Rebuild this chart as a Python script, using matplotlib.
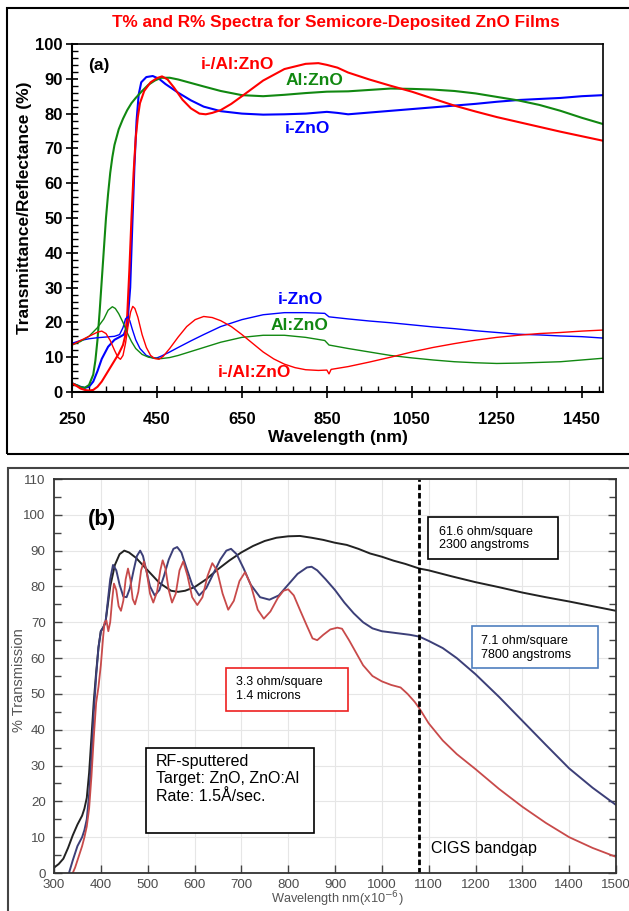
import matplotlib
matplotlib.use("Agg")
import matplotlib.pyplot as plt
from matplotlib.patches import Rectangle
from matplotlib.ticker import MultipleLocator

plt.rcParams['font.family'] = ['Liberation Sans', 'DejaVu Sans']

# ---------------- panel (a): T% and R% spectra ----------------
a_xticks = [250, 450, 650, 850, 1050, 1250, 1450]

# transmittance, i-ZnO (blue)
wl_t_izno = [250, 260, 270, 280, 290, 300, 310, 320, 335, 350, 365, 372, 380, 387, 392, 397,
             402, 407, 413, 425, 440, 455, 470, 500, 530, 560, 600, 650, 700, 750, 800, 850,
             875, 900, 950, 1000, 1050, 1100, 1150, 1200, 1250, 1300, 1350, 1400, 1450, 1500]
t_izno = [2.5, 2.0, 1.5, 1.2, 1.5, 3.0, 6.0, 9.5, 13.0, 15.0, 16.0, 16.5, 19.0, 30.0, 48.0, 65.0,
          78.0, 85.5, 89.0, 90.5, 90.8, 90.0, 88.5, 86.0, 83.8, 82.0, 80.7, 80.0, 79.7, 79.8, 80.0, 80.5,
          80.2, 79.8, 80.3, 80.8, 81.3, 81.8, 82.3, 82.8, 83.4, 83.9, 84.2, 84.5, 85.0, 85.3]

# transmittance, Al:ZnO (green)
wl_t_alzno = [250, 260, 270, 280, 290, 300, 305, 310, 315, 320, 325, 330, 335, 340, 345, 350,
              360, 370, 380, 390, 400, 415, 430, 445, 460, 480, 500, 530, 560, 600, 650, 700,
              750, 800, 850, 900, 950, 1000, 1050, 1100, 1150, 1200, 1250, 1300, 1350, 1400, 1450, 1500]
t_alzno = [2.5, 2.0, 1.4, 1.2, 2.0, 5.0, 9.0, 15.0, 23.0, 32.0, 41.0, 50.0, 57.0, 63.0, 67.5, 71.0,
           75.5, 78.5, 81.0, 83.0, 84.5, 86.5, 88.3, 89.5, 90.3, 90.3, 89.8, 88.8, 87.8, 86.5, 85.3, 85.0,
           85.4, 85.9, 86.3, 86.4, 86.8, 87.2, 87.1, 86.9, 86.5, 85.8, 84.8, 83.8, 82.5, 80.8, 78.8, 77.0]

# transmittance, i-/Al:ZnO (red)
wl_t_bilayer = [250, 260, 270, 280, 290, 300, 310, 320, 330, 340, 350, 360, 370, 375, 380, 385,
                390, 395, 400, 405, 410, 420, 435, 450, 462, 475, 490, 510, 530, 550, 565, 580,
                600, 625, 650, 700, 750, 800, 830, 850, 875, 900, 950, 1000, 1050, 1100, 1150,
                1200, 1250, 1300, 1350, 1400, 1450, 1500]
t_bilayer = [2.5, 1.8, 1.0, 0.6, 0.4, 0.6, 1.5, 3.0, 5.0, 7.0, 9.0, 11.0, 13.5, 16.0, 22.0, 35.0,
             50.0, 63.0, 73.0, 79.0, 83.0, 86.5, 89.0, 90.2, 90.7, 89.8, 87.5, 84.0, 81.5, 80.0, 79.8, 80.2,
             81.0, 82.8, 85.0, 89.5, 92.8, 94.3, 94.5, 94.0, 93.2, 91.8, 89.8, 88.0, 86.3, 84.3, 82.3,
             80.6, 79.0, 77.6, 76.2, 74.8, 73.5, 72.2]

# reflectance, i-ZnO (blue)
wl_r_izno = [250, 270, 290, 310, 330, 350, 362, 370, 376, 381, 386, 392, 400, 410, 425, 440,
             450, 460, 480, 500, 530, 560, 600, 650, 700, 750, 800, 845, 855, 900, 950, 1000,
             1050, 1100, 1150, 1200, 1250, 1300, 1350, 1400, 1450, 1500]
r_izno = [14.0, 14.8, 15.3, 15.6, 15.8, 16.0, 16.5, 18.5, 21.0, 21.6, 20.5, 18.0, 15.0, 12.5, 10.5, 9.8,
          9.8, 10.3, 11.5, 12.8, 14.7, 16.5, 18.8, 20.8, 22.2, 22.8, 22.8, 22.6, 21.6, 21.0, 20.4, 19.9,
          19.3, 18.7, 18.2, 17.6, 17.1, 16.6, 16.4, 16.1, 15.9, 15.5]

# reflectance, Al:ZnO (green)
wl_r_alzno = [250, 270, 290, 310, 325, 335, 345, 352, 360, 370, 380, 390, 400, 415, 430, 445,
              460, 480, 500, 550, 600, 650, 700, 750, 800, 845, 855, 900, 950, 1000, 1050, 1100,
              1150, 1200, 1250, 1300, 1350, 1400, 1450, 1500]
r_alzno = [13.5, 14.5, 16.0, 18.5, 21.0, 23.5, 24.5, 24.0, 22.5, 20.0, 17.0, 14.5, 12.5, 10.8, 10.0, 9.7,
           9.6, 9.9, 10.5, 12.4, 14.3, 15.7, 16.3, 16.3, 15.7, 14.8, 13.5, 12.5, 11.5, 10.5, 9.8, 9.2,
           8.7, 8.4, 8.2, 8.3, 8.5, 8.7, 9.2, 9.7]

# reflectance, i-/Al:ZnO (red)
wl_r_bilayer = [250, 270, 290, 310, 320, 330, 340, 350, 358, 364, 370, 376, 382, 388, 393, 398,
                405, 415, 425, 435, 445, 455, 465, 480, 500, 520, 540, 560, 580, 600, 625, 650,
                675, 700, 725, 750, 775, 800, 830, 850, 855, 860, 900, 950, 1000, 1050, 1100,
                1150, 1200, 1250, 1300, 1350, 1400, 1450, 1500]
r_bilayer = [13.5, 14.8, 16.0, 17.2, 17.5, 16.8, 14.8, 12.0, 10.0, 9.4, 10.5, 14.0, 19.0, 23.0, 24.6, 24.0,
             21.5, 16.5, 12.8, 10.5, 9.6, 9.4, 10.3, 12.5, 15.8, 18.8, 20.8, 21.7, 21.4, 20.5, 18.8, 16.5,
             14.0, 11.5, 9.5, 8.0, 7.0, 6.4, 6.2, 6.3, 5.2, 6.5, 7.3, 8.6, 10.0, 11.5, 12.8,
             13.9, 14.9, 15.7, 16.3, 16.8, 17.1, 17.5, 17.8]

# ---------------- panel (b): % transmission of sputtered films ----------------
wl_b_616 = [300, 310, 320, 330, 340, 350, 360, 365, 370, 375, 380, 385, 390, 395, 400, 405, 410,
            415, 420, 430, 440, 450, 460, 475, 500, 525, 550, 565, 580, 600, 625, 650, 675, 700,
            725, 750, 775, 800, 825, 850, 875, 900, 925, 950, 975, 1000, 1025, 1050, 1080, 1100,
            1150, 1200, 1250, 1300, 1350, 1400, 1450, 1500]
tr_616 = [1.5, 2.5, 4.0, 7.0, 10.5, 13.5, 16.0, 18.0, 21.0, 28.0, 38.0, 48.0, 56.0, 63.0, 67.5, 68.5, 70.0,
          75.0, 80.0, 86.0, 89.0, 90.0, 89.5, 88.0, 84.5, 81.0, 78.8, 78.5, 78.8, 79.8, 82.0, 84.8, 87.3, 89.5,
          91.3, 92.7, 93.6, 94.0, 94.1, 93.6, 93.0, 92.2, 91.6, 90.5, 89.2, 88.3, 87.2, 86.3, 85.0, 84.5,
          82.8, 81.2, 79.8, 78.3, 77.0, 75.8, 74.5, 73.2]

wl_b_71 = [332, 340, 350, 360, 365, 370, 375, 380, 385, 390, 395, 400, 405, 410, 415, 420, 426, 433,
           440, 448, 455, 462, 470, 477, 484, 490, 497, 505, 515, 525, 535, 545, 555, 563, 572, 582,
           595, 610, 625, 640, 655, 668, 678, 690, 705, 720, 740, 760, 780, 800, 820, 840, 850, 862,
           880, 900, 920, 940, 960, 980, 1000, 1030, 1060, 1080, 1100, 1130, 1160, 1200, 1250, 1300,
           1350, 1400, 1450, 1500]
tr_71 = [0.0, 3.5, 7.5, 10.0, 12.0, 15.0, 22.0, 32.0, 45.0, 55.0, 63.0, 67.5, 68.5, 70.0, 76.0, 82.0, 86.0, 84.5,
         80.5, 77.2, 77.0, 79.5, 84.5, 88.5, 90.0, 88.5, 84.5, 80.0, 77.5, 79.0, 83.0, 87.5, 90.5, 91.0, 89.5, 85.5,
         80.5, 77.5, 79.5, 83.5, 87.5, 90.0, 90.5, 89.0, 85.0, 80.5, 77.0, 76.3, 77.5, 80.5, 83.5, 85.3, 85.5, 84.5,
         82.0, 79.0, 75.5, 72.5, 70.0, 68.3, 67.5, 67.0, 66.5, 66.0, 64.8, 62.8, 60.0, 55.5, 49.2, 42.5,
         35.8, 29.2, 23.8, 19.0]

wl_b_33 = [340, 345, 350, 360, 365, 370, 375, 380, 385, 390, 395, 400, 405, 408, 412, 416, 420, 424,
           428, 433, 438, 443, 448, 453, 458, 463, 468, 473, 480, 486, 492, 498, 505, 512, 520, 527,
           532, 538, 545, 552, 560, 568, 576, 585, 595, 606, 617, 628, 638, 648, 660, 672, 684, 696,
           708, 720, 735, 748, 762, 778, 790, 800, 812, 825, 840, 852, 862, 875, 890, 905, 915, 930,
           945, 960, 980, 1000, 1020, 1040, 1055, 1070, 1080, 1100, 1130, 1160, 1200, 1250, 1300,
           1350, 1400, 1450, 1500]
tr_33 = [0.0, 1.5, 3.5, 7.5, 10.0, 13.0, 18.0, 27.0, 38.0, 47.5, 52.0, 58.0, 66.0, 70.0, 70.5, 67.5, 70.0, 76.0,
         80.8, 79.0, 74.5, 73.2, 76.0, 82.0, 85.0, 82.0, 76.5, 75.0, 78.5, 84.5, 87.0, 84.0, 78.0, 75.5, 78.5, 84.5,
         87.3, 85.0, 79.0, 75.5, 78.0, 84.5, 87.0, 83.0, 77.0, 74.8, 77.0, 83.0, 86.5, 84.5, 78.0, 73.5, 76.0, 81.5,
         84.0, 80.5, 73.5, 71.0, 73.0, 76.8, 78.8, 79.2, 77.5, 73.5, 69.0, 65.5, 65.0, 66.5, 68.0, 68.5, 68.2, 65.0,
         61.5, 58.0, 55.0, 53.5, 52.5, 51.8, 50.0, 47.8, 46.0, 41.8, 37.0, 33.2, 29.0, 23.5, 18.5,
         14.0, 10.0, 7.0, 4.5]

cigs_bandgap_nm = 1080

RED, BLUE, GREEN = '#ff0000', '#0000ff', '#118811'

fig = plt.figure(figsize=(6.29, 9.11), dpi=100)

# outer frames around the two panels
fig.add_artist(Rectangle((7 / 629, 1 - 454 / 911), 640 / 629, 446 / 911, transform=fig.transFigure,
                         fill=False, edgecolor='black', lw=1.5))
fig.add_artist(Rectangle((8 / 629, -0.05), 640 / 629, 443 / 911 + 0.05, transform=fig.transFigure,
                         fill=False, edgecolor='#444444', lw=1.5))

# ---- panel (a)
ax = fig.add_axes([72 / 629, 1 - 392 / 911, 531 / 629, 348 / 911])
ax.plot(wl_t_izno, t_izno, color=BLUE, lw=1.5)
ax.plot(wl_t_alzno, t_alzno, color=GREEN, lw=1.5)
ax.plot(wl_t_bilayer, t_bilayer, color=RED, lw=1.5)
ax.plot(wl_r_izno, r_izno, color=BLUE, lw=1.0)
ax.plot(wl_r_alzno, r_alzno, color=GREEN, lw=1.0)
ax.plot(wl_r_bilayer, r_bilayer, color=RED, lw=1.0)

ax.set_xlim(250, 1500)
ax.set_ylim(0, 100)
ax.set_xticks(a_xticks)
ax.xaxis.set_minor_locator(MultipleLocator(40, offset=10))
ax.yaxis.set_major_locator(MultipleLocator(10))
ax.yaxis.set_minor_locator(MultipleLocator(2))
ax.tick_params(which='major', direction='inout', length=9, width=1.2, labelsize=12)
ax.tick_params(which='minor', direction='in', length=4, width=1.0)
ax.tick_params(axis='x', which='major', pad=10)
ax.tick_params(axis='y', which='major', pad=2)
for lab in ax.get_xticklabels() + ax.get_yticklabels():
    lab.set_fontweight('bold')
for s in ['left', 'bottom']:
    ax.spines[s].set_linewidth(1.5)
for s in ['top', 'right']:
    ax.spines[s].set_linewidth(1.2)

ax.text(-0.09, 0.53, 'Transmittance/Reflectance (%)', transform=ax.transAxes, rotation=90,
        ha='center', va='center', fontsize=12.5, fontweight='bold')
ax.text(0.5, -0.132, 'Wavelength (nm)', transform=ax.transAxes, ha='center', va='center',
        fontsize=12.5, fontweight='bold')
fig.text(336 / 629, 1 - 22 / 911, 'T% and R% Spectra for Semicore-Deposited ZnO Films',
         ha='center', va='center', color=RED, fontsize=12.3, fontweight='bold')

lab_kw = dict(ha='center', va='center', fontsize=12.5, fontweight='bold')
ax.text(313, 93.7, '(a)', color='black', **lab_kw)
ax.text(640, 94.0, 'i-/Al:ZnO', color=RED, **lab_kw)
ax.text(820, 89.5, 'Al:ZnO', color=GREEN, **lab_kw)
ax.text(804, 75.8, 'i-ZnO', color=BLUE, **lab_kw)
ax.text(788, 26.5, 'i-ZnO', color=BLUE, **lab_kw)
ax.text(786, 19.2, 'Al:ZnO', color=GREEN, **lab_kw)
ax.text(680, 5.5, 'i-/Al:ZnO', color=RED, **lab_kw)

# ---- panel (b)
bx = fig.add_axes([54 / 629, 1 - 873 / 911, 562 / 629, 394 / 911])
bx.plot(wl_b_616, tr_616, color='#222222', lw=1.4)
bx.plot(wl_b_71, tr_71, color='#3c3f78', lw=1.4)
bx.plot(wl_b_33, tr_33, color='#c84a4a', lw=1.3)
bx.axvline(cigs_bandgap_nm, color='black', lw=2, ls=(0, (2, 1)))

bx.set_xlim(300, 1500)
bx.set_ylim(0, 110)
bx.xaxis.set_major_locator(MultipleLocator(100))
bx.yaxis.set_major_locator(MultipleLocator(10))
bx.yaxis.set_minor_locator(MultipleLocator(5))
bx.grid(True, which='major', color='#e6e6e6', lw=0.8)
bx.set_axisbelow(True)
bx.tick_params(which='both', direction='in', color='#444444', labelcolor='#4d4d4d',
               labelsize=9.6, right=True)
bx.tick_params(which='major', length=6, width=1.0)
bx.tick_params(which='minor', length=5, width=1.0)
bx.tick_params(axis='x', which='minor', bottom=False)
bx.tick_params(axis='y', pad=6)
bx.tick_params(axis='x', pad=4)
for s in bx.spines.values():
    s.set_color('#333333')
    s.set_linewidth(1.3)

bx.text(-0.062, 0.49, '% Transmission', transform=bx.transAxes, rotation=90, ha='center',
        va='center', fontsize=10.5, color='#555555')
fig.text(337 / 629, 2 / 911, 'Wavelength nm(x10$^{-6}$)', ha='center', va='bottom',
         fontsize=9.2, color='#555555')
bx.text(0.0605, 0.896, '(b)', transform=bx.transAxes, ha='left', va='center',
        fontsize=16, fontweight='bold')

boxes = [
    ((0.6655, 0.797), 0.2313, 0.1066, 'black', (0.685, 0.849), '61.6 ohm/square\n2300 angstroms'),
    ((0.7438, 0.5203), 0.2242, 0.1066, '#4f7fbf', (0.760, 0.572), '7.1 ohm/square\n7800 angstroms'),
    ((0.306, 0.411), 0.217, 0.109, '#ee2020', (0.324, 0.466), '3.3 ohm/square\n1.4 microns'),
]
for xy, w, h, ec, txy, txt in boxes:
    bx.add_patch(Rectangle(xy, w, h, transform=bx.transAxes, fill=True, facecolor='white',
                           edgecolor=ec, lw=1.2, zorder=5))
    bx.text(txy[0], txy[1], txt, transform=bx.transAxes, ha='left', va='center', fontsize=9,
            linespacing=1.2, zorder=6)

bx.add_patch(Rectangle((0.1637, 0.1015), 0.299, 0.2157, transform=bx.transAxes, fill=True,
                       facecolor='white', edgecolor='black', lw=1.2, zorder=5))
bx.text(0.1815, 0.302, 'RF-sputtered\nTarget: ZnO, ZnO:Al\nRate: 1.5\u00c5/sec.', transform=bx.transAxes,
        ha='left', va='top', fontsize=11.5, linespacing=1.2, zorder=6)
bx.text(0.671, 0.061, 'CIGS bandgap', transform=bx.transAxes, ha='left', va='center', fontsize=11.5)

fig.savefig('out.png', dpi=100)
